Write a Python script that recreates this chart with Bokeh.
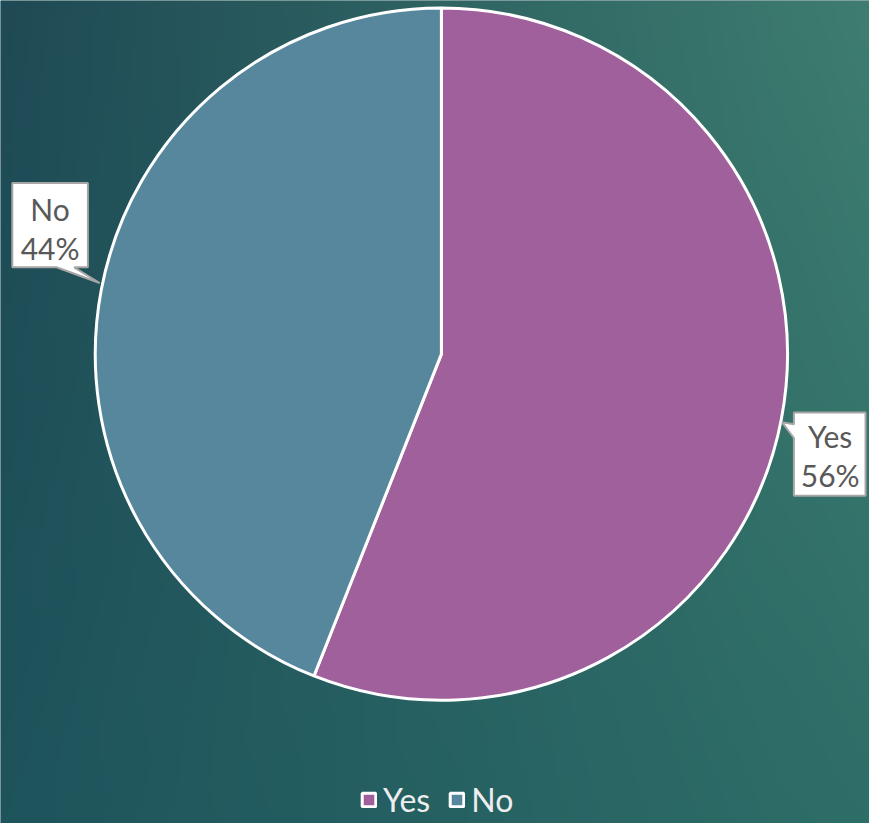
import numpy as np
from bokeh.plotting import figure
from bokeh.models import ColumnDataSource, Range1d, Legend, LegendItem
from bokeh.embed import file_html
from bokeh.resources import INLINE
from bokeh.core.properties import value

# ---- data ----
categories = ["Yes", "No"]
percent = [56, 44]
colors = ["#a0609c", "#56879d"]

# ---- layout helpers ----
W, H = 869, 823
RW, RH = 885, 839      # reference picture size
SX, SY = W / RW, H / RH


def to_data(rx, ry):
    """reference pixel -> data coordinate (y up), scaled into the figure"""
    return rx * SX, H - ry * SY


p = figure(width=W, height=H, x_range=Range1d(0, W), y_range=Range1d(0, H),
           output_backend="svg", toolbar_location=None, min_border=0)
p.axis.visible = False
p.grid.visible = False
p.outline_line_color = None
p.background_fill_color = "#2a5f60"
p.border_fill_color = "#2a5f60"

# ---- background gradient ----
nx, ny = 160, 160
u = np.linspace(0, 1, nx)[None, :]
v = np.linspace(0, 1, ny)[:, None]           # 0 = bottom
TL = np.array([31, 74, 85]); TR = np.array([62, 125, 112])
BL = np.array([30, 84, 92]); BR = np.array([46, 110, 104])
img = np.zeros((ny, nx), dtype=np.uint32)
view = img.view(dtype=np.uint8).reshape((ny, nx, 4))
for c in range(3):
    top = TL[c] * (1 - u) + TR[c] * u
    bot = BL[c] * (1 - u) + BR[c] * u
    view[:, :, c] = np.clip(bot * (1 - v) + top * v, 0, 255).astype(np.uint8)
view[:, :, 3] = 255
p.image_rgba(image=[img], x=0, y=0, dw=W, dh=H)

# ---- pie ----
frac = np.array(percent, dtype=float) / sum(percent)
cum_after = np.cumsum(frac)
cum_before = cum_after - frac
start = np.pi / 2 - 2 * np.pi * cum_after
end = np.pi / 2 - 2 * np.pi * cum_before

cx, cy = to_data(449, 360.5)
src = ColumnDataSource(dict(cat=categories, pct=percent, color=colors,
                            start=start, end=end))
wedges = p.wedge(x=cx, y=cy, radius=352.5 * SX, start_angle="start", end_angle="end",
                 fill_color="color", line_color="white", line_width=3, source=src)

# ---- callout labels ----
boxes = {
    "No": [(12, 186), (89, 186), (89, 272), (75, 272), (101, 288), (57, 272), (12, 272)],
    "Yes": [(808, 420), (881, 420), (881, 505), (808, 505), (808, 446), (796, 430), (808, 432)],
}
text_pos = {"No": (50.5, 213, 252), "Yes": (845, 444, 484)}

for cat, pct in zip(categories, percent):
    pts = [to_data(x, y) for x, y in boxes[cat]]
    p.patch([a for a, _ in pts], [b for _, b in pts], fill_color="white",
            line_color="#a6a6a6", line_width=2)
    tx, ty1, ty2 = text_pos[cat]
    x1, y1 = to_data(tx, ty1)
    _, y2 = to_data(tx, ty2)
    p.text(x=[x1, x1], y=[y1, y2], text=[cat, f"{pct}%"],
           text_align="center", text_baseline="middle",
           text_font=value("Lato"), text_font_size="30px", text_color="#595959")

# ---- legend ----
items = [LegendItem(label=cat, renderers=[wedges], index=i) for i, cat in enumerate(categories)]
legend = Legend(items=items, orientation="horizontal", location=(360, 4),
                background_fill_alpha=0, border_line_alpha=0,
                label_text_font="Lato", label_text_font_size="32px",
                label_text_color="#eeeeee", glyph_width=17, glyph_height=17,
                label_standoff=6, spacing=18, padding=0, margin=0)
p.add_layout(legend, "center")

html = file_html(p, INLINE)
html = html.replace("<body>", '<body style="background: linear-gradient(90deg, #1f4e59, #3b7a70);">', 1)
open("out.html", "w").write(html)
